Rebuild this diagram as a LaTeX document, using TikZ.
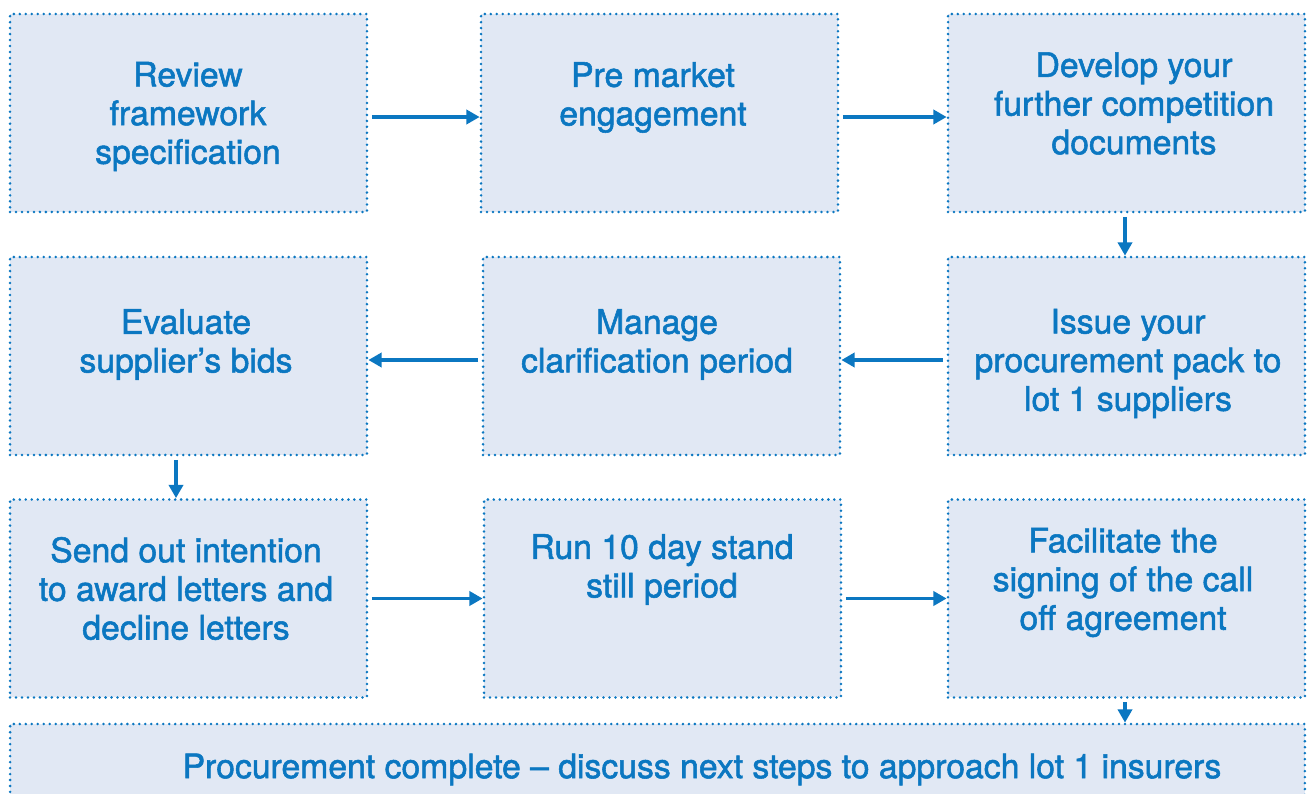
\documentclass[tikz,border=0pt]{standalone}
\usepackage{fontspec}
\newfontfamily\stagefont[BoldFont={TeX Gyre Heros},
                         BoldFeatures={FakeBold=1.6}]{TeX Gyre Heros}
\usetikzlibrary{arrows.meta}

\definecolor{stageblue}{HTML}{0B77C1}
\definecolor{stagefill}{HTML}{E1E8F4}

\begin{document}
\begin{tikzpicture} [
            x=0.02cm, y=-0.02cm,
            stage/.style = { rectangle, draw=stageblue, fill=stagefill,
                             line width=1.6pt, line cap=round,
                             dash pattern=on 0pt off 3.4pt,
                             minimum width=7.14cm, minimum height=3.96cm,
                             inner sep=0pt },
            stagetext/.style = { text=stageblue, align=center, yshift=-0.05cm,
                             font=\stagefont\bfseries\fontsize{19.2}{22}\selectfont },
            line/.style  = { draw=stageblue, line width=2pt,
                             -{Triangle[length=7.5pt,width=8pt]},
                             shorten <=2pt },
          ]
          \useasboundingbox (0,0) rectangle (1309,794);
          \clip (0,0) rectangle (1309,794);

          % first row, left to right
          \node (review)  [stage] at (188.5,113) {};
          \node (premkt)  [stage] at (659.5,113) {};
          \node (develop) [stage] at (1126.5,113) {};
          % second row, right to left
          \node (issue)   [stage] at (1126.5,356) {};
          \node (clarify) [stage] at (661.5,356) {};
          \node (evaluate)[stage] at (188.5,356) {};
          % third row, left to right
          \node (award)   [stage] at (188.5,598.5) {};
          \node (standstill) [stage] at (662.5,598.5) {};
          \node (signing) [stage] at (1126.5,598.5) {};
          % closing step across the whole width
          \node (complete) [stage, minimum width=25.9cm] at (657.5,823) {};

          \node (t1) [stagetext] at (188,114)  {Review\\framework\\specification};
          \node (t2) [stagetext] at (653,95)   {Pre market\\engagement};
          \node (t3) [stagetext] at (1134,101) {Develop your\\further competition\\documents};
          \node (t4) [stagetext] at (1128,361) {Issue your\\procurement pack to\\lot 1 suppliers};
          \node (t5) [stagetext] at (657,342)  {Manage\\clarification period};
          \node (t6) [stagetext] at (186,342)  {Evaluate\\supplier’s bids};
          \node (t7) [stagetext] at (186,586)  {Send out intention\\to award letters and\\decline letters};
          \node (t8) [stagetext] at (662,567)  {Run 10 day stand\\still period};
          \node (t9) [stagetext] at (1123,580) {Facilitate the\\signing of the call\\off agreement};
          \node (t10)[stagetext] at (702,767)  {Procurement complete – discuss next steps to approach lot 1 insurers};

          \draw [line] ([yshift=-0.08cm]review.east) -- ([yshift=-0.08cm]premkt.west);
          \draw [line] ([yshift=-0.08cm]premkt.east) -- ([yshift=-0.08cm]develop.west);
          \draw [line] ([xshift=-0.03cm]develop.south) -- ([xshift=-0.03cm]issue.north);
          \draw [line] ([yshift=-0.08cm]issue.west) -- ([yshift=-0.08cm]clarify.east);
          \draw [line] ([yshift=-0.08cm]clarify.west) -- ([yshift=-0.08cm]evaluate.east);
          \draw [line] ([xshift=-0.25cm]evaluate.south) -- ([xshift=-0.25cm]award.north);
          \draw [line] (award.east) -- (standstill.west);
          \draw [line] (standstill.east) -- (signing.west);
          \draw [line] ([xshift=-0.03cm]signing.south) -- ([xshift=-0.03cm]signing.south |- complete.north);
        \end{tikzpicture}
\end{document}
